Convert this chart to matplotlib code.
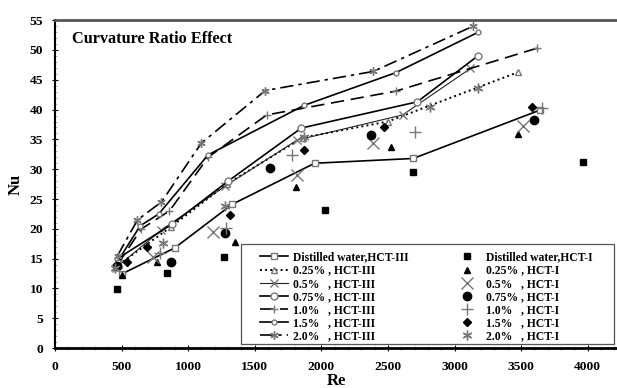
import matplotlib
matplotlib.use("Agg")
import matplotlib.pyplot as plt
from matplotlib.ticker import MultipleLocator
from matplotlib.patches import Rectangle

plt.rcParams['font.family'] = ['Liberation Serif', 'DejaVu Serif']
plt.rcParams['font.weight'] = 'bold'

# HCT-III (lines)
re_dw3 = [500, 900, 1330, 1950, 2690, 3640]
nu_dw3 = [12.4, 16.8, 24.1, 31.0, 31.8, 39.9]
re_025_3 = [480, 870, 1290, 1860, 2500, 3480]
nu_025_3 = [14.0, 20.3, 27.5, 35.3, 38.0, 46.3]
re_05_3 = [460, 800, 1280, 1820, 2610, 3120]
nu_05_3 = [13.5, 19.8, 27.2, 34.9, 39.1, 46.9]
re_075_3 = [470, 880, 1300, 1850, 2720, 3175]
nu_075_3 = [15.0, 20.8, 28.0, 36.9, 41.3, 49.0]
re_10_3 = [470, 650, 860, 1150, 1590, 2560, 3620]
nu_10_3 = [14.0, 20.0, 23.0, 32.0, 39.1, 43.1, 50.3]
re_15_3 = [470, 640, 780, 1150, 1870, 2560, 3180]
nu_15_3 = [14.5, 20.5, 22.5, 32.4, 40.7, 46.2, 53.0]
re_20_3 = [470, 620, 800, 1100, 1580, 2390, 3140]
nu_20_3 = [15.5, 21.5, 24.5, 34.4, 43.2, 46.4, 54.0]

# HCT-I (markers only)
re_dw1 = [464, 838, 1270, 2026, 2686, 3963]
nu_dw1 = [9.9, 12.6, 15.2, 23.1, 29.5, 31.2]
re_025_1 = [502, 765, 1351, 1808, 2521, 3475]
nu_025_1 = [12.2, 14.4, 17.8, 27.0, 33.7, 35.9]
re_05_1 = [735, 1186, 1816, 2386, 3512]
nu_05_1 = [15.3, 19.5, 29.0, 34.4, 37.2]
re_075_1 = [464, 870, 1276, 1613, 2371, 3594]
nu_075_1 = [13.8, 14.4, 19.3, 30.2, 35.7, 38.3]
re_10_1 = [788, 1283, 1778, 2701, 3654]
nu_10_1 = [15.9, 20.1, 32.4, 36.2, 40.2]
re_15_1 = [540, 690, 1313, 1868, 2468, 3579]
nu_15_1 = [14.4, 16.9, 22.3, 33.2, 37.0, 40.4]
re_20_1 = [450, 810, 1276, 1868, 2813, 3174]
nu_20_1 = [13.5, 17.6, 23.8, 35.4, 40.4, 43.6]

labels3 = ['Distilled water,HCT-III', '0.25% , HCT-III', '0.5%   , HCT-III',
           '0.75% , HCT-III', '1.0%   , HCT-III', '1.5%   , HCT-III', '2.0%   , HCT-III']
labels1 = ['Distilled water,HCT-I', '0.25% , HCT-I', '0.5%   , HCT-I',
           '0.75% , HCT-I', '1.0%   , HCT-I', '1.5%   , HCT-I', '2.0%   , HCT-I']

fig = plt.figure(figsize=(6.17, 3.88), dpi=100)
ax = fig.add_axes([0.089, 0.103, 0.911, 0.845])

ast = (6, 2, 0)
g = '#777777'
h = []
h += ax.plot(re_dw3, nu_dw3, '-', color='black', lw=1.2, marker='s', ms=4.5, mfc='white', mec=g, label=labels3[0])
h += ax.plot(re_025_3, nu_025_3, ':', color='black', lw=1.4, marker='^', ms=4.5, mfc='white', mec=g, label=labels3[1])
h += ax.plot(re_05_3, nu_05_3, '-', color='#222222', lw=0.8, marker='x', ms=6, mec=g, label=labels3[2])
h += ax.plot(re_075_3, nu_075_3, '-', color='black', lw=1.2, marker='o', ms=5, mfc='white', mec=g, label=labels3[3])
h += ax.plot(re_10_3, nu_10_3, color='black', lw=1.2, ls=(0, (8, 4)), marker='+', ms=6, mec=g, label=labels3[4])
h += ax.plot(re_15_3, nu_15_3, '-', color='black', lw=1.2, marker='o', ms=3.5, mfc='white', mec=g, label=labels3[5])
h += ax.plot(re_20_3, nu_20_3, color='black', lw=1.2, ls=(0, (8, 3, 2, 3)), marker=ast, ms=6, mec=g, label=labels3[6])

h += ax.plot(re_dw1, nu_dw1, 's', color='black', ms=4.5, ls='none', label=labels1[0])
h += ax.plot(re_025_1, nu_025_1, '^', color='black', ms=5, ls='none', label=labels1[1])
h += ax.plot(re_05_1, nu_05_1, 'x', color=g, ms=8, mew=1.0, ls='none', label=labels1[2])
h += ax.plot(re_075_1, nu_075_1, 'o', color='black', ms=6, ls='none', label=labels1[3])
h += ax.plot(re_10_1, nu_10_1, '+', color=g, ms=8, mew=1.0, ls='none', label=labels1[4])
h += ax.plot(re_15_1, nu_15_1, 'D', color='black', ms=4, ls='none', label=labels1[5])
h += ax.plot(re_20_1, nu_20_1, marker=ast, color=g, ms=7, mew=1.0, ls='none', label=labels1[6])

ax.set_xlim(0, 4220)
ax.set_ylim(0, 55)
ax.xaxis.set_major_locator(MultipleLocator(500))
ax.yaxis.set_major_locator(MultipleLocator(5))
ax.xaxis.set_minor_locator(MultipleLocator(100))
ax.yaxis.set_minor_locator(MultipleLocator(1))
ax.tick_params(axis='x', which='major', pad=7)
ax.tick_params(axis='y', which='major', pad=6)
ax.tick_params(axis='both', which='major', labelsize=9.7, direction='inout', length=5, width=0.8)
ax.tick_params(axis='both', which='minor', direction='inout', length=3, width=0.5, colors='#999999')
for lab in ax.get_xticklabels() + ax.get_yticklabels():
    lab.set_fontweight('bold')

ax.spines['right'].set_visible(False)
ax.spines['bottom'].set_linewidth(2.0)
ax.spines['left'].set_linewidth(1.5)
ax.spines['top'].set_linewidth(2.0)
ax.spines['top'].set_color('#555555')

ax.set_xlabel('Re', fontsize=12, fontweight='bold', labelpad=0)
ax.set_ylabel('Nu', fontsize=12, fontweight='bold', labelpad=4)
ax.text(0.030, 0.966, 'Curvature Ratio Effect', transform=ax.transAxes, fontsize=11.7,
        fontweight='bold', va='top', ha='left')

ax.add_patch(Rectangle((0.331, 0.012), 0.664, 0.305, transform=ax.transAxes,
                       fill=True, facecolor='white', edgecolor='#555555', lw=0.9, zorder=4))
leg = ax.legend(handles=h, ncol=2, loc='lower left', bbox_to_anchor=(0.365, 0.017, 0.591, 0.295),
                mode='expand', fontsize=8.4, frameon=False,
                borderpad=0, labelspacing=0.1, handlelength=2.4, handletextpad=0.4,
                columnspacing=1.0, borderaxespad=0)
leg.set_zorder(5)
for t in leg.get_texts():
    t.set_fontweight('bold')

fig.savefig('out.png', dpi=100)
